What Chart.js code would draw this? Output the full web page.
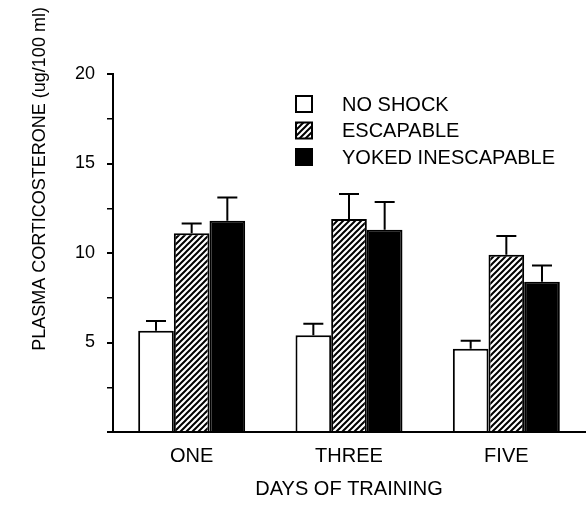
<!DOCTYPE html>
<html>
<head>
<meta charset="utf-8">
<script src="https://cdn.jsdelivr.net/npm/chart.js@4"></script>
<style>
  html, body { margin: 0; padding: 0; background: #fff; }
  canvas { display: block; }
</style>
</head>
<body>
<canvas id="chart" width="587" height="516"></canvas>
<script>
const days = ['ONE', 'THREE', 'FIVE'];
const noShock = [5.65, 5.4, 4.65];
const noShockErr = [0.55, 0.65, 0.45];
const escapable = [11.1, 11.9, 9.9];
const escapableErr = [0.55, 1.4, 1.05];
const yoked = [11.8, 11.3, 8.4];
const yokedErr = [1.3, 1.55, 0.9];
const yLabelled = [5, 10, 15, 20];

const FONT = "'Liberation Sans', Arial, Helvetica, sans-serif";

// diagonal hatch for the escapable bars
const makeHatch = () => {
  const c = document.createElement('canvas');
  c.width = 6; c.height = 6;
  const x = c.getContext('2d');
  x.fillStyle = '#fff';
  x.fillRect(0, 0, 6, 6);
  x.strokeStyle = '#000';
  x.lineWidth = 2;
  x.beginPath();
  x.moveTo(0, 6); x.lineTo(6, 0);
  x.moveTo(-1, 1); x.lineTo(1, -1);
  x.moveTo(5, 7); x.lineTo(7, 5);
  x.stroke();
  return document.getElementById('chart').getContext('2d').createPattern(c, 'repeat');
};

// one-sided error bars, drawn from the bar elements and the y scale
const errorBars = {
  id: 'errorBars',
  afterDatasetsDraw(chart) {
    const ctx = chart.ctx;
    const y = chart.scales.y;
    ctx.save();
    ctx.strokeStyle = '#000';
    ctx.lineWidth = 2;
    chart.data.datasets.forEach((ds, i) => {
      chart.getDatasetMeta(i).data.forEach((bar, j) => {
        const top = y.getPixelForValue(ds.data[j] + ds.errors[j]);
        ctx.beginPath();
        ctx.moveTo(bar.x, bar.y);
        ctx.lineTo(bar.x, top);
        ctx.moveTo(bar.x - 10, top);
        ctx.lineTo(bar.x + 10, top);
        ctx.stroke();
      });
    });
    ctx.restore();
  }
};

// boxed legend inside the plot and the offset y-axis title
const extras = {
  id: 'extras',
  afterDraw(chart) {
    const ctx = chart.ctx;
    ctx.save();
    ctx.fillStyle = '#000';
    ctx.font = '20px ' + FONT;
    ctx.textBaseline = 'middle';
    chart.data.datasets.forEach((ds, i) => {
      const cy = 104 + i * 26.5;
      ctx.fillStyle = ds.backgroundColor;
      ctx.fillRect(296, cy - 8, 16, 16);
      ctx.strokeStyle = '#000';
      ctx.lineWidth = 2;
      ctx.strokeRect(296, cy - 8, 16, 16);
      ctx.fillStyle = '#000';
      ctx.textAlign = 'left';
      ctx.fillText(ds.label, 342, cy + 1);
    });

    ctx.translate(40, 179);
    ctx.rotate(-Math.PI / 2);
    ctx.font = '18px ' + FONT;
    ctx.textAlign = 'center';
    ctx.fillText('PLASMA CORTICOSTERONE (ug/100 ml)', 0, 0);
    ctx.restore();
  }
};

Chart.defaults.font.family = FONT;
Chart.defaults.color = '#000';

new Chart(document.getElementById('chart'), {
  type: 'bar',
  data: {
    labels: days,
    datasets: [
      { label: 'NO SHOCK', data: noShock, errors: noShockErr, backgroundColor: '#fff' },
      { label: 'ESCAPABLE', data: escapable, errors: escapableErr, backgroundColor: makeHatch() },
      { label: 'YOKED INESCAPABLE', data: yoked, errors: yokedErr, backgroundColor: '#000' }
    ]
  },
  options: {
    responsive: false,
    animation: false,
    layout: { padding: { left: 0, right: 2, top: 74, bottom: 0 } },
    datasets: {
      bar: {
        borderColor: '#000',
        borderWidth: 2,
        categoryPercentage: 0.68,
        barPercentage: 1
      }
    },
    plugins: {
      legend: { display: false },
      tooltip: { enabled: false }
    },
    scales: {
      x: {
        afterFit: (scale) => { scale.height = 84; },
        grid: { display: false, drawTicks: false },
        border: { display: true, color: '#000', width: 2 },
        ticks: { padding: 12, font: { size: 20 } },
        title: {
          display: true,
          text: 'DAYS OF TRAINING',
          font: { size: 20 },
          padding: { top: 0, bottom: 15 }
        }
      },
      y: {
        min: 0,
        max: 20,
        afterFit: (scale) => { scale.width = 113; },
        grid: {
          display: true,
          drawOnChartArea: false,
          drawTicks: true,
          tickLength: 6,
          color: '#000',
          lineWidth: (c) => (c.tick && c.tick.value % 5 === 0 ? 2 : 1.5)
        },
        border: { display: true, color: '#000', width: 2 },
        ticks: {
          stepSize: 2.5,
          padding: 12,
          font: { size: 18 },
          callback: (v) => (yLabelled.includes(v) ? String(v) : '')
        }
      }
    }
  },
  plugins: [errorBars, extras]
});
</script>
</body>
</html>
